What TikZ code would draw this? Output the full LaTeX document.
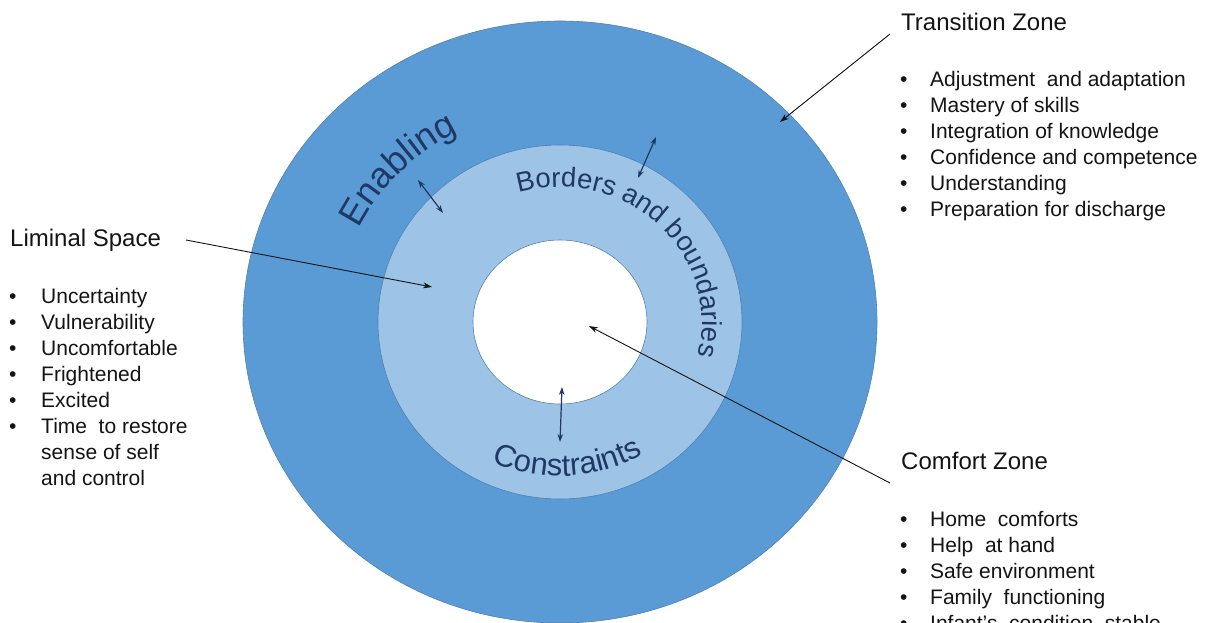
\documentclass[tikz,border=0pt]{standalone}
\usepackage{fontspec}
\setmainfont{Liberation Sans}
\usetikzlibrary{arrows.meta,decorations.text,calc}
\definecolor{outerblue}{HTML}{5B9BD5}
\definecolor{lightblue}{HTML}{9DC3E6}
\definecolor{ringline}{HTML}{4F81B0}
\definecolor{navy}{HTML}{1F3864}
\definecolor{ink}{HTML}{141414}
\newcommand\headfont{\fontsize{24}{28}\selectfont}
\newcommand\listfont{\fontsize{21}{26}\selectfont}
\newcommand\enfont{\fontsize{36}{40}\selectfont}
\newcommand\bofont{\fontsize{27.5}{30}\selectfont}
\newcommand\cofont{\fontsize{31}{34}\selectfont}
\begin{document}
\begin{tikzpicture}[x=1pt,y=1pt,
  ring/.style={draw=ringline,line width=0.6pt},
  head/.style={anchor=base west,inner sep=0pt,text=ink,font=\headfont},
  blist/.style={anchor=base west,inner sep=0pt,text=ink,font=\listfont},
  pointer/.style={draw=ink,line width=0.9pt,-{Stealth[length=9pt,width=6pt]}},
  twoway/.style={draw=navy,line width=1.2pt,{Stealth[length=8pt,width=5.5pt]}-{Stealth[length=8pt,width=5.5pt]}},
  curvetext/.style={decorate,decoration={text along path,text align=center,text color=navy}}]
\clip (0,0) rectangle (1221,-623);
\fill[white] (0,0) rectangle (1221,-623);
\coordinate (c) at (560,-322);
% rings
\draw[ring,fill=outerblue] (c) ellipse [x radius=317,y radius=301];
\draw[ring,fill=lightblue] (c) ellipse [x radius=182,y radius=177];
\draw[ring,fill=white] (c) ellipse [x radius=87,y radius=82];
% curved labels
\path[curvetext,decoration={text={|\enfont|Enabling}}]
  (c) ++(176:224 and 213) arc[start angle=176,end angle=96,x radius=224,y radius=213];
\path[curvetext,decoration={text={|\bofont|Borders and boundaries}}]
  (c) ++(130:142 and 135) arc[start angle=130,end angle=-38,x radius=142,y radius=135];
\path[curvetext,decoration={text={|\cofont|Constraints}}]
  (c) ++(-140:162 and 154) arc[start angle=-140,end angle=-34,x radius=162,y radius=154];
% two-way arrows
\coordinate (enA) at (418,-180); \coordinate (enB) at (443,-213);
\coordinate (boA) at (656,-137); \coordinate (boB) at (638,-178);
\coordinate (coA) at (562,-387); \coordinate (coB) at (560,-442);
\draw[twoway] (enA) -- (enB);
\draw[twoway] (boA) -- (boB);
\draw[twoway] (coA) -- (coB);
% Transition Zone block
\node[head] (tzh) at (901,-31) {Transition Zone};
\node[blist] (tzl) at (900,-87) {\begin{tabular}[t]{@{}p{30pt}@{}l@{}}
•&Adjustment\ \ and adaptation\\
•&Mastery of skills\\
•&Integration of knowledge\\
•&Confidence and competence\\
•&Understanding\\
•&Preparation for discharge
\end{tabular}};
% Liminal Space block
\node[head] (lsh) at (10,-246) {Liminal Space};
\node[blist] (lsl) at (9,-303) {\begin{tabular}[t]{@{}p{32pt}@{}l@{}}
•&Uncertainty\\
•&Vulnerability\\
•&Uncomfortable\\
•&Frightened\\
•&Excited\\
•&Time\ \ to restore\\
&sense of self\\
&and control
\end{tabular}};
% Comfort Zone block
\node[head] (czh) at (901,-469) {Comfort Zone};
\node[blist] (czl) at (900,-526) {\begin{tabular}[t]{@{}p{30pt}@{}l@{}}
•&Home\ \ comforts\\
•&Help\ \ at hand\\
•&Safe environment\\
•&Family\ \ functioning\\
•&Infant’s\ \ condition\ \ stable
\end{tabular}};
% pointers
\coordinate (tzS) at (890,-34); \coordinate (tzT) at (780,-122);
\coordinate (lsS) at (186,-240); \coordinate (lsT) at (432,-287);
\coordinate (czS) at (890,-483); \coordinate (czT) at (589,-326);
\draw[pointer] (tzS) -- (tzT);
\draw[pointer] (lsS) -- (lsT);
\draw[pointer] (czS) -- (czT);
\end{tikzpicture}
\end{document}
